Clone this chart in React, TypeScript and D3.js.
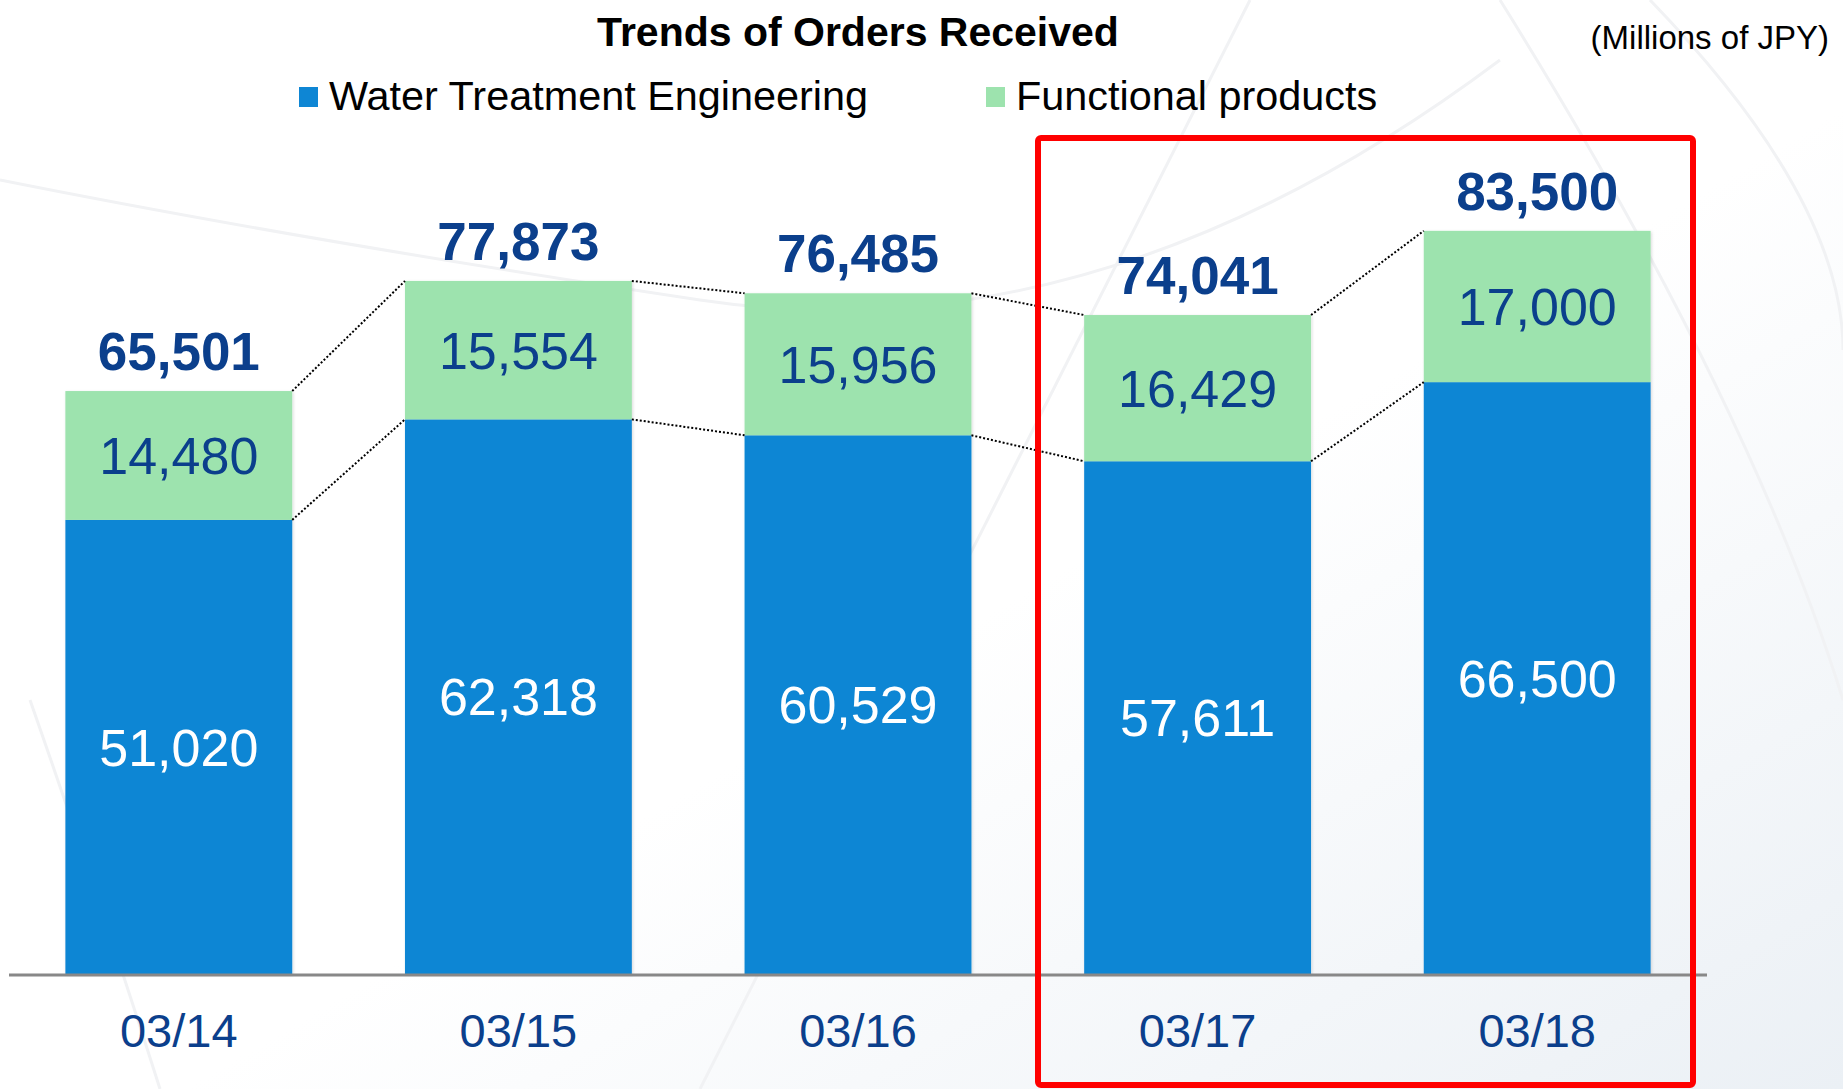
import React from "react";
import * as d3 from "d3";

const categories = ["03/14", "03/15", "03/16", "03/17", "03/18"];
const waterTreatment = [51020, 62318, 60529, 57611, 66500];
const functionalProducts = [14480, 15554, 15956, 16429, 17000];
const totals = [65501, 77873, 76485, 74041, 83500];
const seriesNames = ["Water Treatment Engineering", "Functional products"];

const W = 1843;
const H = 1089;
const BLUE = "#0e86d4";
const GREEN = "#9de3ae";
const NAVY = "#0b3f8c";
const FONT = "'Liberation Sans', Arial, sans-serif";

export default function App() {
  const x = d3.scaleBand<string>().domain(categories).range([9, 1707]).paddingInner(0.332).paddingOuter(0.166);
  const y = d3.scaleLinear().domain([0, 90000]).range([974, 173]);
  const bw = x.bandwidth();
  const fmt = d3.format(",");

  const connectors: { x1: number; y1: number; x2: number; y2: number }[] = [];
  for (let i = 0; i < categories.length - 1; i++) {
    const xa = (x(categories[i]) as number) + bw;
    const xb = x(categories[i + 1]) as number;
    connectors.push({ x1: xa, y1: y(waterTreatment[i] + functionalProducts[i]), x2: xb, y2: y(waterTreatment[i + 1] + functionalProducts[i + 1]) });
    connectors.push({ x1: xa, y1: y(waterTreatment[i]), x2: xb, y2: y(waterTreatment[i + 1]) });
  }

  const arcs = [
    "M 0 180 Q 300 240 700 300 T 1500 60",
    "M 1250 0 Q 1000 500 700 1089",
    "M 1500 0 Q 1750 400 1843 700",
    "M 1650 0 Q 1843 200 1843 350",
    "M 30 700 Q 100 900 160 1089",
  ];

  return (
    <svg
      width={W}
      height={H}
      style={{ position: "absolute", left: 0, top: 0, fontFamily: FONT }}
    >
      <defs>
        <linearGradient id="bg" x1="0" y1="0" x2="1" y2="1">
          <stop offset="0" stopColor="#ffffff" />
          <stop offset="0.55" stopColor="#ffffff" />
          <stop offset="1" stopColor="#ebf0f5" />
        </linearGradient>
        <filter id="sh" x="-5%" y="-5%" width="110%" height="110%">
          <feDropShadow dx="1" dy="1" stdDeviation="1.5" floodColor="#000" floodOpacity="0.15" />
        </filter>
      </defs>
      <rect x={0} y={0} width={W} height={H} fill="url(#bg)" />
      {arcs.map((d, i) => (
        <path key={i} d={d} fill="none" stroke="#f1f2f4" strokeWidth={3} />
      ))}

      <text x={858} y={46} textAnchor="middle" fontSize={41} fontWeight="bold" fill="#000">
        Trends of Orders Received
      </text>
      <text x={1829} y={49} textAnchor="end" fontSize={33} fill="#000">
        (Millions of JPY)
      </text>

      <rect x={299} y={87} width={19} height={20} fill={BLUE} />
      <text x={329} y={110} fontSize={41.4} fill="#000">{seriesNames[0]}</text>
      <rect x={986} y={87} width={19} height={20} fill={GREEN} />
      <text x={1016} y={110} fontSize={41.4} fill="#000">{seriesNames[1]}</text>

      {categories.map((c, i) => {
        const x0 = x(c) as number;
        const yw = y(waterTreatment[i]);
        const yt = y(waterTreatment[i] + functionalProducts[i]);
        return (
          <g key={c}>
            <g filter="url(#sh)">
              <rect x={x0} y={yw} width={bw} height={y(0) - yw} fill={BLUE} />
              <rect x={x0} y={yt} width={bw} height={yw - yt} fill={GREEN} />
            </g>
            <text x={x0 + bw / 2} y={(yw + y(0)) / 2} dy="0.36em" textAnchor="middle" fontSize={52} fill="#ffffff">
              {fmt(waterTreatment[i])}
            </text>
            <text x={x0 + bw / 2} y={(yt + yw) / 2} dy="0.36em" textAnchor="middle" fontSize={52} fill={NAVY}>
              {fmt(functionalProducts[i])}
            </text>
            <text x={x0 + bw / 2} y={yt - 21} textAnchor="middle" fontSize={53} fontWeight="bold" fill={NAVY}>
              {fmt(totals[i])}
            </text>
            <text x={x0 + bw / 2} y={1047} textAnchor="middle" fontSize={47} fill={NAVY}>
              {c}
            </text>
          </g>
        );
      })}

      {connectors.map((l, i) => (
        <line key={i} x1={l.x1} y1={l.y1} x2={l.x2} y2={l.y2} stroke="#000" strokeWidth={2} strokeDasharray="2,2" />
      ))}

      <line x1={9} x2={1707} y1={975} y2={975} stroke="#888888" strokeWidth={3} />

      <rect x={1038} y={138} width={655} height={947} fill="none" stroke="#ff0000" strokeWidth={6} rx={3} />
    </svg>
  );
}
